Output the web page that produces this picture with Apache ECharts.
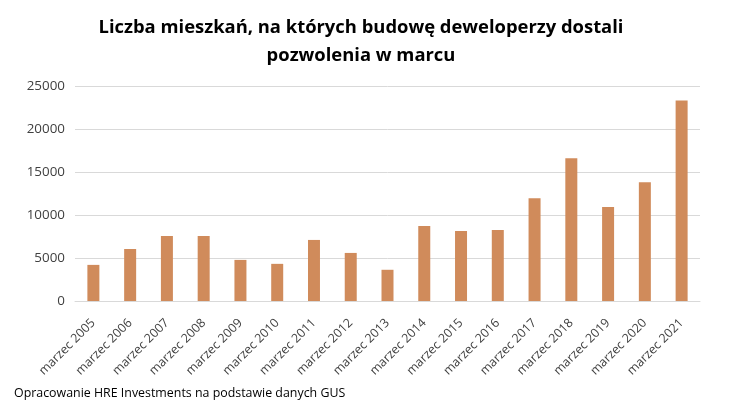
<!DOCTYPE html>
<html><head><meta charset="utf-8">
<script src="https://cdn.jsdelivr.net/npm/echarts@6/dist/echarts.min.js"></script>
<style>html,body{margin:0;padding:0;background:#fff}#c{width:733px;height:409px}</style>
</head><body><div id="c"></div>
<script>
const categories = ["marzec 2005","marzec 2006","marzec 2007","marzec 2008","marzec 2009","marzec 2010","marzec 2011","marzec 2012","marzec 2013","marzec 2014","marzec 2015","marzec 2016","marzec 2017","marzec 2018","marzec 2019","marzec 2020","marzec 2021"];
const values = [4200,6050,7560,7560,4780,4320,7100,5590,3630,8720,8140,8260,11960,16590,10920,13810,23300];
const yTicks = [0,5000,10000,15000,20000,25000];
const titleText = "Liczba mieszkań, na których budowę deweloperzy dostali\npozwolenia w marcu";
const sourceText = "Opracowanie HRE Investments na podstawie danych GUS";

const chart = echarts.init(document.getElementById('c'), null, {renderer:'canvas'});
chart.setOption({
  animation:false,
  backgroundColor:'#fff',
  graphic:[{
    type:'text', x:361, y:14,
    style:{text:titleText, textAlign:'center', textVerticalAlign:'top', fill:'#000',
      font:'bold 18.4px "Open Sans"', lineHeight:28}
  }],
  title:[{
    text:sourceText, left:9, top:382,
    textStyle:{fontFamily:'Open Sans', fontWeight:'normal', fontSize:12.4, color:'#000'}
  }],
  grid:{left:75, right:33, top:86, bottom:108, containLabel:false},
  xAxis:{
    type:'category', data:categories,
    axisLine:{lineStyle:{color:'#d9d9d9'}},
    axisTick:{show:false},
    axisLabel:{rotate:45, interval:0, color:'#404040', fontFamily:'Open Sans', fontSize:12.4, margin:20}
  },
  yAxis:{
    type:'value', min:yTicks[0], max:yTicks[yTicks.length-1], interval:5000,
    axisLine:{show:false}, axisTick:{show:false},
    splitLine:{lineStyle:{color:'#d9d9d9'}},
    axisLabel:{color:'#404040', fontFamily:'Open Sans', fontSize:13.4, margin:10, formatter:v=>String(v)}
  },
  series:[{type:'bar', data:values, barWidth:12, itemStyle:{color:'#d08b5b'}}]
});
</script></body></html>
